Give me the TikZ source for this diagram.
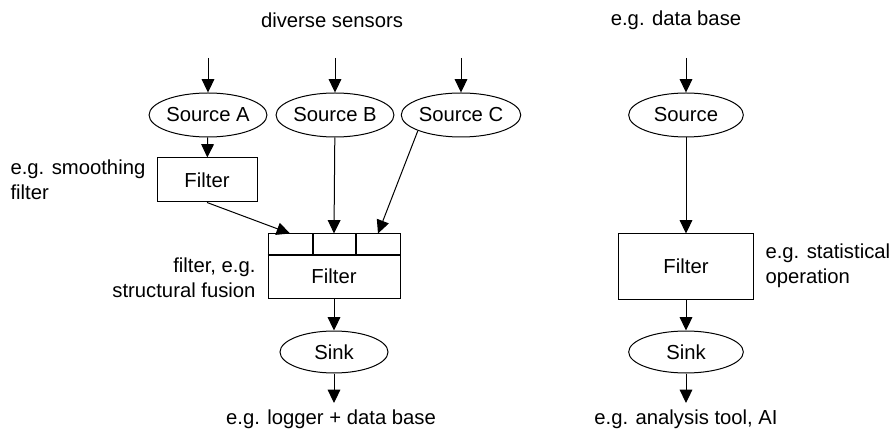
\documentclass[tikz,border=0pt]{standalone}
\usepackage{fontspec}
\setmainfont{Liberation Sans}
\usetikzlibrary{shapes.geometric,arrows.meta}

\begin{document}
\begin{tikzpicture}[x=0.75pt,y=-0.75pt,
  font=\fontsize{15.2}{18.5}\selectfont,
  line width=0.75pt,
  oval/.style={draw,ellipse,inner sep=0pt,minimum height=33pt},
  box/.style={draw,rectangle,inner sep=0pt},
  cell/.style={draw,rectangle,inner sep=0pt,minimum height=15.75pt},
  lbl/.style={inner sep=0pt,align=left},
  flow/.style={-{Triangle[length=10pt,width=9.5pt]}}]
\useasboundingbox (0,0) rectangle (891,434);

% --- left pipeline: several sources fused into one filter ---
\node[lbl] (sensors) at (332,20) {diverse sensors};
\coordinate (inA) at (208,58);
\coordinate (inB) at (335,58);
\coordinate (inC) at (461,58);

\node[oval,minimum width=84pt] (srcA) at (208,115) {Source A};
\node[oval,minimum width=84pt] (srcB) at (335,115) {Source B};
\node[oval,minimum width=83pt] (srcC) at (461,115) {Source C};

\node[box,minimum width=75pt,minimum height=33pt] (fA) at (207,180) {Filter};
\node[lbl,anchor=west] (smooth) at (10,180) {e.g. smoothing\\filter};

% fusion filter: three input slots on top of the body
\node[cell,minimum width=33pt] (cell1) at (290,244.5) {};
\node[cell,minimum width=33pt] (cell2) at (334,244.5) {};
\node[cell,minimum width=33pt] (cell3) at (378,244.5) {};
\node[box,minimum width=99pt,minimum height=32.25pt] (fuse) at (334,276.5) {Filter};
\draw[line width=1.5pt] (cell1.south west) -- (cell3.south east);
\draw[line width=1.5pt] (cell1.north east) -- (cell1.south east);
\draw[line width=1.5pt] (cell3.north west) -- (cell3.south west);
\node[lbl,anchor=east,align=right] (fusion) at (256,277.5) {filter, e.g.\\structural fusion};

\node[oval,minimum width=81pt,minimum height=31.5pt] (sink) at (334,352) {Sink};
\coordinate (outL) at (334,403);
\node[lbl] (logger) at (331,419) {e.g. logger + data base};

\draw[flow] (inA) -- (srcA);
\draw[flow] (inB) -- (srcB);
\draw[flow] (inC) -- (srcC);
\draw[flow] (srcA) -- (fA);
\draw[flow] (fA.south) -- (cell1.north);
\draw[flow] (srcB) -- (cell2.north);
\draw[flow] (srcC.200) -- (cell3.north);
\draw[flow] (fuse) -- (sink);
\draw[flow] (sink) -- (outL);

% --- right pipeline: single source, single filter ---
\node[lbl] (database) at (676,20) {e.g. data base};
\coordinate (inR) at (686,58);
\node[oval,minimum width=86pt] (src) at (686,115) {Source};
\node[box,minimum width=101.25pt,minimum height=48.75pt] (fR) at (686,266.5) {Filter};
\node[lbl,anchor=west] (stat) at (765,265.5) {e.g. statistical\\operation};
\node[oval,minimum width=86pt,minimum height=31.5pt] (sinkR) at (686,352) {Sink};
\coordinate (outR) at (686,403);
\node[lbl] (tool) at (686,419) {e.g. analysis tool, AI};

\draw[flow] (inR) -- (src);
\draw[flow] (src) -- (fR);
\draw[flow] (fR) -- (sinkR);
\draw[flow] (sinkR) -- (outR);
\end{tikzpicture}
\end{document}
